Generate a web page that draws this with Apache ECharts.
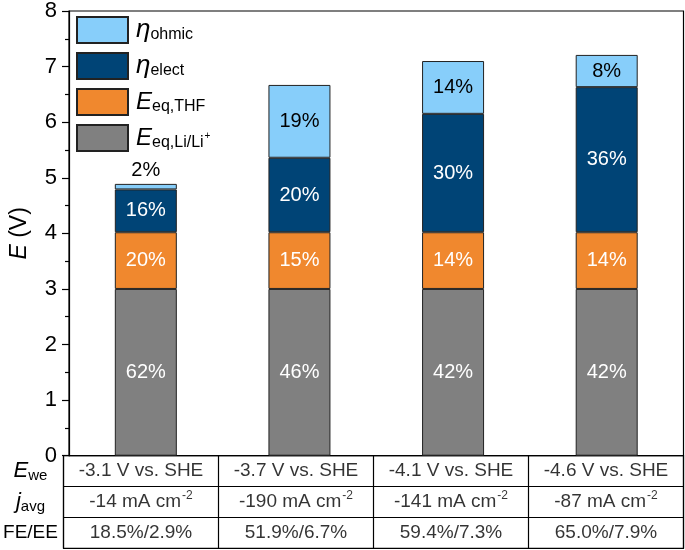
<!DOCTYPE html>
<html><head><meta charset="utf-8">
<script src="https://cdn.jsdelivr.net/npm/echarts@6/dist/echarts.min.js"></script>
<style>html,body{margin:0;padding:0;background:#fff}#c{width:685px;height:550px}</style>
</head><body><div id="c"></div>
<script>
// ---- data ----
const categories = ['-3.1 V', '-3.7 V', '-4.1 V', '-4.6 V'];
const eqLi = [3.0, 3.0, 3.0, 3.0];
const eqTHF = [1.02, 1.02, 1.02, 1.02];
const etaElect = [0.77, 1.34, 2.13, 2.61];
const etaOhmic = [0.10, 1.31, 0.95, 0.58];
const pctLi = [62, 46, 42, 42];
const pctTHF = [20, 15, 14, 14];
const pctElect = [16, 20, 30, 36];
const pctOhmic = [2, 19, 14, 8];
const rowEwe = ['-3.1 V vs. SHE', '-3.7 V vs. SHE', '-4.1 V vs. SHE', '-4.6 V vs. SHE'];
const rowJ = ['-14', '-190', '-141', '-87'];
const rowFE = ['18.5%/2.9%', '51.9%/6.7%', '59.4%/7.3%', '65.0%/7.9%'];
const rowNames = ['Ewe', 'javg', 'FE/EE'];

const C = { ohmic: '#87CEFA', elect: '#004476', thf: '#F0882E', li: '#808080' };
const FF = 'Liberation Sans, Arial, sans-serif';

const chart = echarts.init(document.getElementById('c'), null, { renderer: 'canvas' });

function pctLabel(arr, color) {
  return { show: true, position: 'inside', color: color, fontSize: 20, fontFamily: FF,
    formatter: p => arr[p.dataIndex] + '%' };
}
const border = { borderColor: '#222', borderWidth: 1 };

const legendNames = { ohmic: '{eta|η}{sub|ohmic}', elect: '{eta|η}{sub|elect}', THF: '{E|E}{sub|eq,THF}', Li: '{E|E}{sub|eq,Li/Li}{sup|+}' };

// table cells
const tableData = [];
categories.forEach((c, i) => {
  tableData.push({ value: [i, 0], label: { formatter: rowEwe[i] } });
  tableData.push({ value: [i, 1], label: { formatter: '{t|' + rowJ[i] + ' mA cm}{s|-2}' } });
  tableData.push({ value: [i, 2], label: { formatter: rowFE[i] } });
});

const rowLabelMap = { 'Ewe': '{E|E}{sub|we}', 'javg': '{E|j}{sub|avg}', 'FE/EE': '{n|FE/EE}' };

chart.setOption({
  animation: false,
  textStyle: { fontFamily: FF, color: '#000' },
  grid: [
    { left: 63.5, right: 1.5, top: 10, bottom: 94.3, show: true, borderColor: '#000', borderWidth: 1.2 },
    { left: 63.5, right: 1.5, top: 455.7, height: 92.6, show: true, borderColor: '#000', borderWidth: 1.2 }
  ],
  legend: {
    orient: 'vertical', left: 76, top: 16, padding: 0, itemWidth: 51, itemHeight: 26, itemGap: 8,
    icon: 'rect',
    data: ['ohmic', 'elect', 'THF', 'Li'],
    selectedMode: false,
    formatter: n => legendNames[n],
    textStyle: {
      padding: [0, 0, 0, 3],
      rich: {
        eta: { fontSize: 26, fontStyle: 'italic', lineHeight: 22, color: '#000', fontFamily: FF },
        E: { fontSize: 24, fontStyle: 'italic', lineHeight: 22, color: '#000', fontFamily: FF },
        sub: { fontSize: 16, lineHeight: 14, padding: [10, 0, 0, 0], color: '#000', fontFamily: FF },
        sup: { fontSize: 10, lineHeight: 10, padding: [0, 0, 4, 1], color: '#000', fontFamily: FF }
      }
    }
  },
  xAxis: [
    { type: 'category', gridIndex: 0, data: categories,
      axisLine: { lineStyle: { color: '#000', width: 1.2 } }, axisTick: { show: false }, axisLabel: { show: false } },
    { type: 'category', gridIndex: 1, data: categories,
      axisLine: { show: false }, axisTick: { show: false }, axisLabel: { show: false },
      splitLine: { show: true, interval: 0, lineStyle: { color: '#000', width: 1.2 } } }
  ],
  yAxis: [
    { type: 'value', gridIndex: 0, min: 0, max: 8, interval: 1,
      name: '{i|E} (V)', nameLocation: 'middle', nameGap: 38, nameRotate: 90,
      nameTextStyle: { fontSize: 23, color: '#000', rich: { i: { fontSize: 23, fontStyle: 'italic', color: '#000', fontFamily: FF } } },
      axisLine: { show: true, lineStyle: { color: '#000', width: 1.2 } },
      axisTick: { show: true, inside: false, length: 7, lineStyle: { color: '#000', width: 1.2 } },
      minorTick: { show: true, splitNumber: 2, length: 4, lineStyle: { color: '#000', width: 1.2 } },
      splitLine: { show: false },
      axisLabel: { fontSize: 22, color: '#000', margin: 12 } },
    { type: 'category', gridIndex: 1, inverse: true, data: rowNames,
      axisLine: { show: false }, axisTick: { show: false },
      splitLine: { show: true, interval: 0, lineStyle: { color: '#000', width: 1.2 } },
      axisLabel: { margin: 33, align: 'center', formatter: v => rowLabelMap[v],
        rich: {
          E: { fontSize: 22, fontStyle: 'italic', lineHeight: 20, color: '#000', fontFamily: FF },
          sub: { fontSize: 15, lineHeight: 14, padding: [10, 0, 0, 0], color: '#000', fontFamily: FF },
          n: { fontSize: 19, color: '#000', fontFamily: FF }
        } } }
  ],
  series: [
    { name: 'Li', type: 'bar', stack: 's', barWidth: 62, data: eqLi,
      itemStyle: Object.assign({ color: C.li }, border), label: pctLabel(pctLi, '#fff') },
    { name: 'THF', type: 'bar', stack: 's', barWidth: 62, data: eqTHF,
      itemStyle: Object.assign({ color: C.thf }, border), label: pctLabel(pctTHF, '#fff') },
    { name: 'elect', type: 'bar', stack: 's', barWidth: 62, data: etaElect,
      itemStyle: Object.assign({ color: C.elect }, border), label: pctLabel(pctElect, '#fff') },
    { name: 'ohmic', type: 'bar', stack: 's', barWidth: 62,
      data: etaOhmic.map((v, i) => i === 0 ? { value: v, label: { position: 'top', distance: 3 } } : v),
      itemStyle: Object.assign({ color: C.ohmic }, border), label: pctLabel(pctOhmic, '#000') },
    { name: 'table', type: 'scatter', xAxisIndex: 1, yAxisIndex: 1, symbolSize: 1, silent: true,
      itemStyle: { color: 'rgba(0,0,0,0)' },
      label: { show: true, position: 'inside', fontSize: 19, color: '#000', fontFamily: FF,
        rich: {
          t: { fontSize: 19, color: '#000', fontFamily: FF },
          s: { fontSize: 12, padding: [0, 0, 12, 1], color: '#000', fontFamily: FF }
        } },
      data: tableData }
  ]
});
</script></body></html>
